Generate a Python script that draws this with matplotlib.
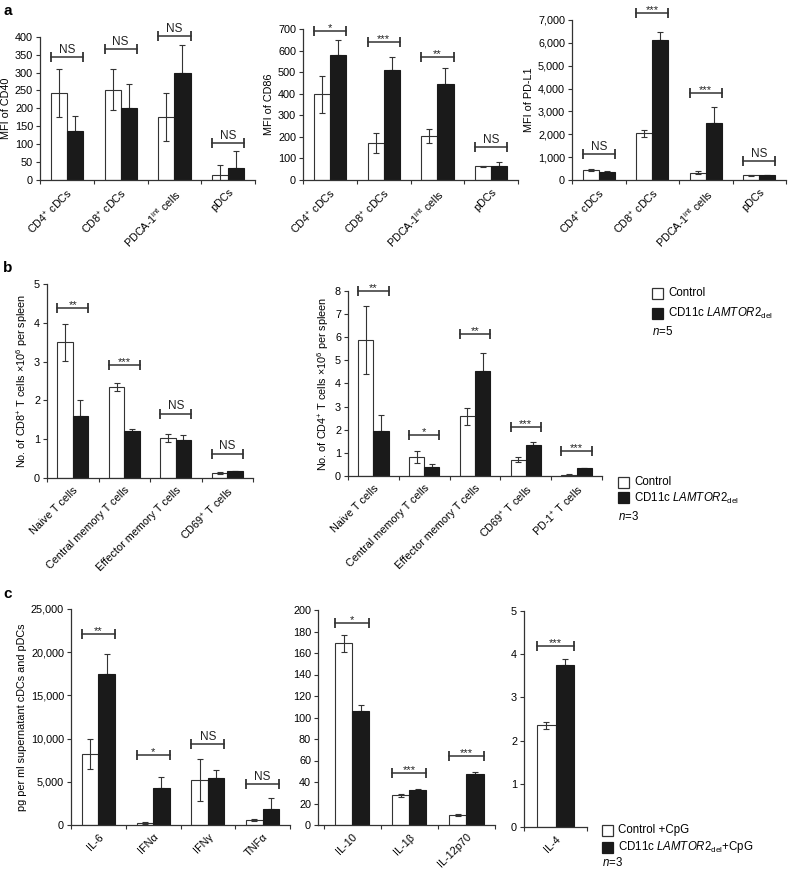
import matplotlib
matplotlib.use("Agg")
import matplotlib.pyplot as plt
from matplotlib.patches import Rectangle
from matplotlib.ticker import FuncFormatter, FixedLocator
import numpy as np

plt.rcParams['font.family'] = ['Liberation Sans', 'DejaVu Sans']
plt.rcParams['mathtext.fontset'] = 'custom'
plt.rcParams['mathtext.rm'] = 'Liberation Sans'
plt.rcParams['mathtext.it'] = 'Liberation Sans:italic'
plt.rcParams['mathtext.bf'] = 'Liberation Sans:bold'

# ---------------- DATA ----------------
a_cats = [r'CD4$^{+}$ cDCs', r'CD8$^{+}$ cDCs', r'PDCA-1$^{\rm int}$ cells', 'pDCs']

cd40_ctrl = [243, 252, 177, 14]
cd40_ctrl_err = [68, 58, 67, 27]
cd40_mut = [137, 201, 298, 33]
cd40_mut_err = [41, 66, 80, 47]
cd40_sig = ['NS', 'NS', 'NS', 'NS']
cd40_sig_y = [343, 365, 402, 102]

cd86_ctrl = [397, 172, 203, 63]
cd86_ctrl_err = [85, 47, 32, 4]
cd86_mut = [581, 510, 445, 66]
cd86_mut_err = [70, 58, 73, 17]
cd86_sig = ['*', '***', '**', 'NS']
cd86_sig_y = [691, 640, 572, 154]

pdl1_ctrl = [430, 2050, 320, 210]
pdl1_ctrl_err = [30, 150, 60, 20]
pdl1_mut = [360, 6130, 2500, 210]
pdl1_mut_err = [40, 330, 680, 20]
pdl1_sig = ['NS', '***', '***', 'NS']
pdl1_sig_y = [1137, 7290, 3790, 845]

b1_cats = ['Naive T cells', 'Central memory T cells', 'Effector memory T cells', r'CD69$^{+}$ T cells']
cd8_ctrl = [3.5, 2.35, 1.04, 0.13]
cd8_ctrl_err = [0.48, 0.10, 0.10, 0.02]
cd8_mut = [1.6, 1.2, 0.97, 0.17]
cd8_mut_err = [0.40, 0.07, 0.15, 0.02]
cd8_sig = ['**', '***', 'NS', 'NS']
cd8_sig_y = [4.37, 2.92, 1.66, 0.63]

b2_cats = ['Naive T cells', 'Central memory T cells', 'Effector memory T cells',
           r'CD69$^{+}$ T cells', r'PD-1$^{+}$ T cells']
cd4_ctrl = [5.9, 0.82, 2.58, 0.70, 0.05]
cd4_ctrl_err = [1.47, 0.25, 0.37, 0.10, 0.02]
cd4_mut = [1.95, 0.38, 4.52, 1.32, 0.33]
cd4_mut_err = [0.70, 0.14, 0.80, 0.15, 0.02]
cd4_sig = ['**', '*', '**', '***', '***']
cd4_sig_y = [8.0, 1.79, 6.12, 2.12, 1.07]

c1_cats = ['IL-6', 'IFNα', 'IFNγ', 'TNFα']
c1_ctrl = [8200, 200, 5200, 550]
c1_ctrl_err = [1750, 100, 2400, 100]
c1_mut = [17500, 4300, 5400, 1800]
c1_mut_err = [2300, 1300, 1000, 1300]
c1_sig = ['**', '*', 'NS', 'NS']
c1_sig_y = [22150, 8100, 9340, 4710]

c2_cats = ['IL-10', 'IL-1β', 'IL-12p70']
c2_ctrl = [169, 27.5, 9.3]
c2_ctrl_err = [8, 1.5, 0.5]
c2_mut = [106, 32.5, 47]
c2_mut_err = [6, 0.8, 2]
c2_sig = ['*', '***', '***']
c2_sig_y = [188, 48, 64.5]

c3_cats = ['IL-4']
c3_ctrl = [2.35]
c3_ctrl_err = [0.07]
c3_mut = [3.75]
c3_mut_err = [0.15]
c3_sig = ['***']
c3_sig_y = [4.2]

# ---------------- FIGURE ----------------
W, H = 788, 873
fig = plt.figure(figsize=(W / 100, H / 100), dpi=100)
AX_COL = '#333333'
TICK_FS = 7.8


def ax_px(left, top, right, bottom):
    return fig.add_axes([left / W, 1 - bottom / H, (right - left) / W, (bottom - top) / H])


def thousands(v, pos):
    return f'{int(round(v)):,}'


def draw_panel(ax, cats, ctrl, ctrl_err, mut, mut_err, sig, sig_y, ymax, ystep, ylabel,
               comma=False, lw_bar=0.8, xlim=None):
    n = len(cats)
    x = np.arange(n)
    bw = 0.3
    ax.bar(x - bw / 2, ctrl, bw, color='white', edgecolor=AX_COL, linewidth=lw_bar, zorder=2)
    ax.bar(x + bw / 2, mut, bw, color='#1a1a1a', edgecolor='#1a1a1a', linewidth=lw_bar, zorder=2)
    ax.errorbar(x - bw / 2, ctrl, yerr=ctrl_err, fmt='none', ecolor=AX_COL, elinewidth=0.8,
                capsize=2.2, capthick=0.8, zorder=3)
    ax.errorbar(x + bw / 2, mut, yerr=[np.zeros(n), mut_err], fmt='none', ecolor=AX_COL,
                elinewidth=0.8, capsize=2.2, capthick=0.8, zorder=1)
    for i in range(n):
        xs = [x[i] - bw, x[i] + bw]
        ax.plot(xs, [sig_y[i]] * 2, color=AX_COL, lw=1.1, clip_on=False, zorder=4)
        ax.plot(xs, [sig_y[i]] * 2, linestyle='none', marker='|', markersize=7.5,
                markeredgewidth=1.3, color=AX_COL, clip_on=False, zorder=4)
        fs = 8.5 if sig[i] == 'NS' else 8
        ax.annotate(sig[i], (x[i], sig_y[i]), xytext=(0, 0.8 if sig[i] == 'NS' else -1.5),
                    textcoords='offset points', ha='center', va='bottom', fontsize=fs,
                    color='#222222', annotation_clip=False)
    if xlim is None:
        xlim = (-0.5, n - 0.5)
    ax.set_xlim(*xlim)
    ax.set_ylim(0, ymax)
    ax.set_yticks(np.arange(0, ymax + ystep / 2, ystep))
    if comma:
        ax.yaxis.set_major_formatter(FuncFormatter(thousands))
    ax.set_xticks(x)
    ax.set_xticklabels(cats, rotation=45, ha='right', rotation_mode='anchor', fontsize=TICK_FS)
    ax.tick_params(axis='x', length=0, pad=5)
    ax.xaxis.set_minor_locator(FixedLocator(np.arange(-0.5, n, 1.0)))
    ax.tick_params(axis='x', which='minor', length=3, color=AX_COL, width=0.8)
    ax.tick_params(axis='y', length=3, color=AX_COL, width=0.8, labelsize=TICK_FS, pad=2)
    for s in ['top', 'right']:
        ax.spines[s].set_visible(False)
    for s in ['left', 'bottom']:
        ax.spines[s].set_color(AX_COL)
        ax.spines[s].set_linewidth(0.9)
    ax.set_ylabel(ylabel, fontsize=TICK_FS, labelpad=3)


# Panel a
a1 = ax_px(40, 36.7, 255, 180)
draw_panel(a1, a_cats, cd40_ctrl, cd40_ctrl_err, cd40_mut, cd40_mut_err, cd40_sig, cd40_sig_y,
           400, 50, 'MFI of CD40')
a2 = ax_px(303, 29, 518, 180)
draw_panel(a2, a_cats, cd86_ctrl, cd86_ctrl_err, cd86_mut, cd86_mut_err, cd86_sig, cd86_sig_y,
           700, 100, 'MFI of CD86')
a3 = ax_px(572, 20, 786, 180)
draw_panel(a3, a_cats, pdl1_ctrl, pdl1_ctrl_err, pdl1_mut, pdl1_mut_err, pdl1_sig, pdl1_sig_y,
           7000, 1000, 'MFI of PD-L1', comma=True)

# Panel b
b1 = ax_px(47, 284, 253, 478)
draw_panel(b1, b1_cats, cd8_ctrl, cd8_ctrl_err, cd8_mut, cd8_mut_err, cd8_sig, cd8_sig_y,
           5, 1, r'No. of CD8$^{+}$ T cells $\times$10$^{6}$ per spleen')
b2 = ax_px(348, 291, 602, 476)
draw_panel(b2, b2_cats, cd4_ctrl, cd4_ctrl_err, cd4_mut, cd4_mut_err, cd4_sig, cd4_sig_y,
           8, 1, r'No. of CD4$^{+}$ T cells $\times$10$^{6}$ per spleen')

# Panel c
c1 = ax_px(71, 609, 290, 825)
draw_panel(c1, c1_cats, c1_ctrl, c1_ctrl_err, c1_mut, c1_mut_err, c1_sig, c1_sig_y,
           25000, 5000, 'pg per ml supernatant cDCs and pDCs', comma=True)
c2 = ax_px(318, 610, 495, 825)
draw_panel(c2, c2_cats, c2_ctrl, c2_ctrl_err, c2_mut, c2_mut_err, c2_sig, c2_sig_y,
           200, 20, '', xlim=(-0.6, 2.5))
c3 = ax_px(524, 611, 587, 827)
draw_panel(c3, c3_cats, c3_ctrl, c3_ctrl_err, c3_mut, c3_mut_err, c3_sig, c3_sig_y,
           5, 1, '')

# Panel letters
for lab, yy in [('a', 11), ('b', 268), ('c', 594)]:
    fig.text(3 / W, 1 - yy / H, lab, fontsize=11, fontweight='bold', va='center', ha='left')


# Legends
def legend(x0, ys, labels, ntext, sq=11, fs=8.3, ngap=18):
    colors = [('white', AX_COL), ('#1a1a1a', '#1a1a1a')]
    for (fc, ec), y, lab in zip(colors, ys, labels):
        r = Rectangle(((x0) / W, 1 - (y + sq / 2) / H), sq / W, sq / H, transform=fig.transFigure,
                      facecolor=fc, edgecolor=ec, linewidth=0.9)
        fig.add_artist(r)
        fig.text((x0 + sq + 5) / W, 1 - y / H, lab, fontsize=fs, va='center', ha='left')
    fig.text(x0 / W, 1 - ys[-1] / H - ngap / H, ntext, fontsize=fs, va='center', ha='left')


legend(652, [293, 313], ['Control', r'CD11c $\it{LAMTOR2}_{\rm del}$'], r'$\it{n}$=5')
legend(618, [482, 498], ['Control', r'CD11c $\it{LAMTOR2}_{\rm del}$'], r'$\it{n}$=3')
legend(602, [830, 847], ['Control +CpG', r'CD11c $\it{LAMTOR2}_{\rm del}$+CpG'], r'$\it{n}$=3',
       ngap=15)

fig.savefig('out.png', dpi=100)
